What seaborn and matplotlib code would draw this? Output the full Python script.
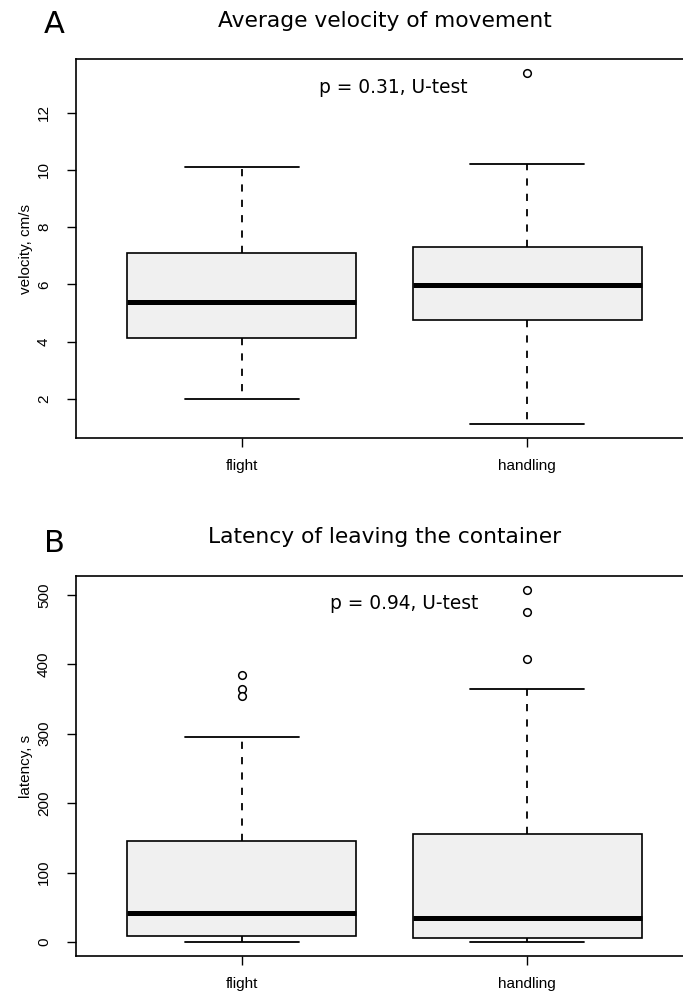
import numpy as np
import pandas as pd
import matplotlib
matplotlib.use("Agg")
import matplotlib.pyplot as plt
import seaborn as sns

# Data

groups = ["flight", "handling"]

# A: average velocity, cm/s
vel_low = [1.98, 1.13]
vel_q1 = [4.12, 4.74]
vel_med = [5.38, 5.99]
vel_q3 = [7.09, 7.31]
vel_high = [10.09, 10.21]
vel_out_group = ["handling"]
vel_out_value = [13.37]

# B: latency of leaving the container, s
lat_low = [0, 0]
lat_q1 = [8.2, 5.8]
lat_med = [41, 34.2]
lat_q3 = [145.5, 156]
lat_high = [294.7, 365]
lat_out_group = ["flight", "flight", "flight", "handling", "handling", "handling"]
lat_out_value = [385, 365, 355, 507, 476, 407]

sns.set_style("ticks")
plt.rcParams['font.family'] = ['Liberation Sans', 'DejaVu Sans']
plt.rcParams['text.color'] = 'black'
plt.rcParams['axes.labelcolor'] = 'black'
plt.rcParams['xtick.color'] = 'black'
plt.rcParams['ytick.color'] = 'black'

fig = plt.figure(figsize=(6.83, 9.94), dpi=100)

W, H = 683, 994


def add_axes(left, top, right, bottom):
    return fig.add_axes([left / W, 1 - bottom / H, (right - left) / W, (bottom - top) / H])


def panel(ax, low, q1, med, q3, high, out_group, out_value, yticks, ylabel):
    stats = []
    for i in range(len(groups)):
        stats.append(dict(whislo=low[i], q1=q1[i], med=med[i], q3=q3[i],
                          whishi=high[i], fliers=[]))

    # outliers
    out_df = pd.DataFrame({"group": out_group, "value": out_value})
    sns.stripplot(data=out_df, x="group", y="value", order=groups, jitter=False,
                  color="white", edgecolor="black", linewidth=1.1, size=5.5,
                  ax=ax, zorder=5)

    ax.bxp(stats, positions=[0, 1], widths=0.8, capwidths=0.4,
           patch_artist=True, showfliers=False, manage_ticks=False,
           boxprops=dict(facecolor="#f0f0f0", edgecolor="black", linewidth=1.2),
           medianprops=dict(color="black", linewidth=3.6, solid_capstyle="butt"),
           whiskerprops=dict(color="black", linewidth=1.3, linestyle=(0, (4, 4.5))),
           capprops=dict(color="black", linewidth=1.3))

    # R-like axis limits (4% padding)
    allv = low + high + out_value
    lo, hi = min(allv), max(allv)
    pad = 0.04 * (hi - lo)
    ax.set_ylim(lo - pad, hi + pad)
    ax.set_xlim(-0.58, 1.58)

    ax.set_xticks([0, 1])
    ax.set_xticklabels(groups)
    ax.set_yticks(yticks)
    ax.set_xlabel("")
    ax.set_ylabel(ylabel, fontsize=11, labelpad=3)

    ax.tick_params(axis="both", direction="out", length=6.5, width=1.0,
                   color="black", labelsize=11, labelcolor="black")
    ax.tick_params(axis="x", pad=8.5)
    ax.tick_params(axis="y", pad=11.5, labelrotation=90)
    for t in ax.get_yticklabels():
        t.set_va("center")
        t.set_ha("right")

    for s in ax.spines.values():
        s.set_visible(True)
        s.set_color("black")
        s.set_linewidth(1.2)


ax1 = add_axes(76, 59.3, 693, 437.7)
panel(ax1, vel_low, vel_q1, vel_med, vel_q3, vel_high, vel_out_group, vel_out_value,
      [2, 4, 6, 8, 10, 12], "velocity, cm/s")
ax1.text(0.53, 12.89, "p = 0.31, U-test", ha="center", va="center",
         fontsize=13.4, family="DejaVu Sans")

ax2 = add_axes(76, 576, 693, 956)
panel(ax2, lat_low, lat_q1, lat_med, lat_q3, lat_high, lat_out_group, lat_out_value,
      [0, 100, 200, 300, 400, 500], "latency, s")
ax2.text(0.57, 488, "p = 0.94, U-test", ha="center", va="center",
         fontsize=13.4, family="DejaVu Sans")

# titles and panel letters
cx = (76 + 693) / 2 / W
fig.text(cx, 1 - 27 / H, "Average velocity of movement", ha="center", va="baseline",
         fontsize=15.7, family="DejaVu Sans")
fig.text(cx, 1 - 543 / H, "Latency of leaving the container", ha="center", va="baseline",
         fontsize=15.7, family="DejaVu Sans")
fig.text(44 / W, 1 - 33 / H, "A", ha="left", va="baseline", fontsize=22, family="DejaVu Sans")
fig.text(44 / W, 1 - 552 / H, "B", ha="left", va="baseline", fontsize=22, family="DejaVu Sans")

fig.savefig("out.png", dpi=100)
